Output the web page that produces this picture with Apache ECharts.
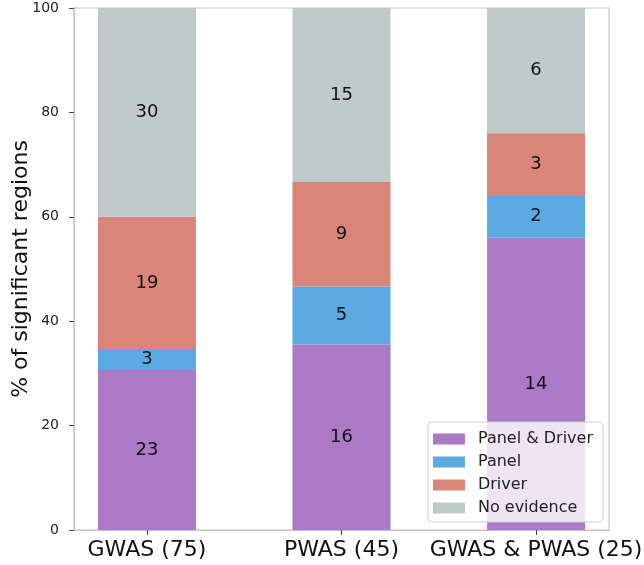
<!DOCTYPE html>
<html><head><meta charset="utf-8">
<script src="https://cdn.jsdelivr.net/npm/echarts@6/dist/echarts.min.js"></script>
<style>html,body{margin:0;padding:0;background:#fff}#c{width:644px;height:565px}</style>
</head><body><div id="c"></div>
<script>
var categories = ['GWAS (75)', 'PWAS (45)', 'GWAS & PWAS (25)'];
var totals = [75, 45, 25];
var seriesNames = ['Panel & Driver', 'Panel', 'Driver', 'No evidence'];
var panelDriver = [23, 16, 14];
var panel = [3, 5, 2];
var driver = [19, 9, 3];
var noEvidence = [30, 15, 6];
var colors = ['#ab79c5', '#5aa9e0', '#d9857a', '#bfc9c9'];
var yTitle = '% of significant regions';

var counts = [panelDriver, panel, driver, noEvidence];
var font = 'DejaVu Sans';
// layout slots: matplotlib-like spacing (each category 4 slots, margins of 1 slot on each side)
var nSlots = 11;
var slotOf = [1, 5, 9];
var slotLabels = [];
for (var k = 0; k < nSlots; k++) slotLabels.push('');
slotOf.forEach(function (s, i) { slotLabels[s] = categories[i]; });
function isCat(idx) { return slotOf.indexOf(idx) >= 0; }

var chart = echarts.init(document.getElementById('c'));
var series = counts.map(function (arr, si) {
  var data = [];
  for (var k = 0; k < nSlots; k++) data.push('-');
  slotOf.forEach(function (s, i) { data[s] = { value: arr[i] / totals[i] * 100, count: arr[i] }; });
  return {
    name: seriesNames[si], type: 'bar', stack: 'all', barWidth: 98,
    itemStyle: { color: colors[si] },
    label: { show: true, position: 'inside', color: '#111', fontSize: 18, fontFamily: font,
      formatter: function (p) { return p.data.count; } },
    data: data
  };
});
chart.setOption({
  animation: false,
  grid: { left: 74, right: 35, top: 8, bottom: 35, show: true, borderColor: '#c4c4c4', borderWidth: 1.2,
    containLabel: false, outerBoundsMode: 'none' },
  graphic: [{
    type: 'text', x: 21, y: 269, rotation: Math.PI / 2,
    style: { text: yTitle, fontSize: 22, fontFamily: font, fill: '#111', align: 'center', verticalAlign: 'middle' }
  }],
  legend: {
    orient: 'vertical', right: 41, bottom: 43, data: seriesNames,
    itemWidth: 32, itemHeight: 11, itemGap: 5,
    textStyle: { fontSize: 16, lineHeight: 18, fontFamily: font, color: '#222', padding: [0, 0, 0, 8] },
    backgroundColor: 'rgba(255,255,255,0.8)', borderColor: '#d0d0d0', borderWidth: 1,
    borderRadius: 4, padding: [8, 10, 5, 5], icon: 'rect'
  },
  xAxis: {
    type: 'category', data: slotLabels, boundaryGap: true,
    splitLine: { show: false },
    axisLine: { show: true, lineStyle: { color: '#c4c4c4', width: 1.2 } },
    axisTick: { show: true, length: 5, alignWithLabel: true, interval: function (i) { return isCat(i); }, lineStyle: { color: '#444' } },
    axisLabel: { interval: function (i) { return isCat(i); }, fontSize: 22, fontFamily: font, color: '#111', margin: 9 }
  },
  yAxis: {
    type: 'value', min: 0, max: 100, interval: 20,
    splitLine: { show: false },
    axisLine: { show: true, lineStyle: { color: '#c4c4c4', width: 1.2 } },
    axisTick: { show: true, length: 5, lineStyle: { color: '#444' } },
    axisLabel: { fontSize: 14, fontFamily: font, color: '#222', margin: 15 }
  },
  series: series
});
</script></body></html>
